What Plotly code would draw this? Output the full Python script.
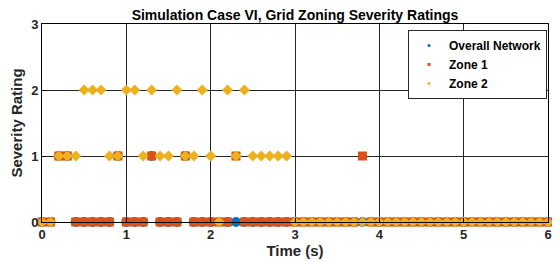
import plotly.graph_objects as go

# Sample times (s), 0.1 s step from 0 to 6
time_s = [round(i * 0.1, 1) for i in range(61)]

overall = [0, 0, 1, 1, 0, 0, 0, 0, 0, 1,
           0, 0, 0, 1, 0, 0, 0, 1, 0, 0,
           0, 0, 0, 0, 0, 0, 0, 0, 0, 0,
           0, 0, 0, 0, 0, 0, 0, 0, 0, 0,
           0, 0, 0, 0, 0, 0, 0, 0, 0, 0,
           0, 0, 0, 0, 0, 0, 0, 0, 0, 0,
           0]
zone1 = [0, 0, 1, 1, 0, 0, 0, 0, 0, 1,
         0, 0, 0, 1, 0, 0, 0, 1, 0, 0,
         0, 0, 0, 1, 0, 0, 0, 0, 0, 0,
         0, 0, 0, 0, 0, 0, 0, 0, 1, 0,
         0, 0, 0, 0, 0, 0, 0, 0, 0, 0,
         0, 0, 0, 0, 0, 0, 0, 0, 0, 0,
         0]
zone2 = [0, 0, 1, 1, 1, 2, 2, 2, 1, 1,
         2, 2, 1, 2, 1, 1, 2, 1, 1, 2,
         1, 0, 2, 1, 2, 1, 1, 1, 1, 1,
         0, 0, 0, 0, 0, 0, 0, 0, 0, 0,
         0, 0, 0, 0, 0, 0, 0, 0, 0, 0,
         0, 0, 0, 0, 0, 0, 0, 0, 0, 0,
         0]

series_names = ["Overall Network", "Zone 1", "Zone 2"]
x_ticks = [0, 1, 2, 3, 4, 5, 6]
y_ticks = [0, 1, 2, 3]

BLUE = "#0072BD"
ORANGE = "#D95319"
YELLOW = "#EDB120"
FONT = "Liberation Sans, Arial, sans-serif"

# the page body adds an 8 px offset; size the figure to the visible area
W, H = 544, 254
L, R, T, B = 34, 4, 16, 40

fig = go.Figure()
fig.add_trace(go.Scatter(x=time_s, y=overall, mode="markers", showlegend=False,
                         marker=dict(symbol="circle", size=10, color=BLUE), cliponaxis=False))
fig.add_trace(go.Scatter(x=time_s, y=zone1, mode="markers", showlegend=False,
                         marker=dict(symbol="square", size=9, color=ORANGE), cliponaxis=False))
fig.add_trace(go.Scatter(x=time_s, y=zone2, mode="markers", showlegend=False,
                         marker=dict(symbol="diamond", size=8.5, color=YELLOW), cliponaxis=False))

# legend entries with small markers
for name, sym, col in zip(series_names, ["circle", "square", "circle"], [BLUE, ORANGE, YELLOW]):
    fig.add_trace(go.Scatter(x=[None], y=[None], mode="markers", name=name,
                             marker=dict(symbol=sym, size=3, color=col)))

axis_common = dict(showline=True, linecolor="black", linewidth=1, mirror=True,
                   showgrid=True, gridcolor="#262626", gridwidth=1, zeroline=False,
                   ticks="inside", ticklen=4, tickcolor="black", automargin=False,
                   tickfont=dict(family=FONT, size=13, color="#262626", weight="bold"))

fig.update_layout(
    width=W, height=H,
    margin=dict(l=L, r=R, t=T, b=B, autoexpand=False),
    paper_bgcolor="white", plot_bgcolor="white",
    title=dict(text="<b>Simulation Case VI, Grid Zoning Severity Ratings</b>",
               x=(L + (W - R)) / 2 / W, xanchor="center", y=1, yanchor="top",
               pad=dict(t=2, b=0), font=dict(family=FONT, size=14, color="black")),
    xaxis=dict(range=[0, 6], tickvals=x_ticks, **axis_common,
               title=dict(text="<b>Time (s)</b>", standoff=4,
                          font=dict(family=FONT, size=15, color="#262626"))),
    yaxis=dict(range=[0, 3], tickvals=y_ticks, **axis_common,
               title=dict(text="<b>Severity Rating</b>", standoff=4,
                          font=dict(family=FONT, size=15, color="#262626"))),
    legend=dict(x=0.998, xanchor="right", y=0.97, yanchor="top",
                bgcolor="white", bordercolor="#262626", borderwidth=1,
                font=dict(family=FONT, size=12, color="black", weight="bold"),
                itemwidth=30, tracegroupgap=0),
    showlegend=True,
)

fig.write_html("out.html")
